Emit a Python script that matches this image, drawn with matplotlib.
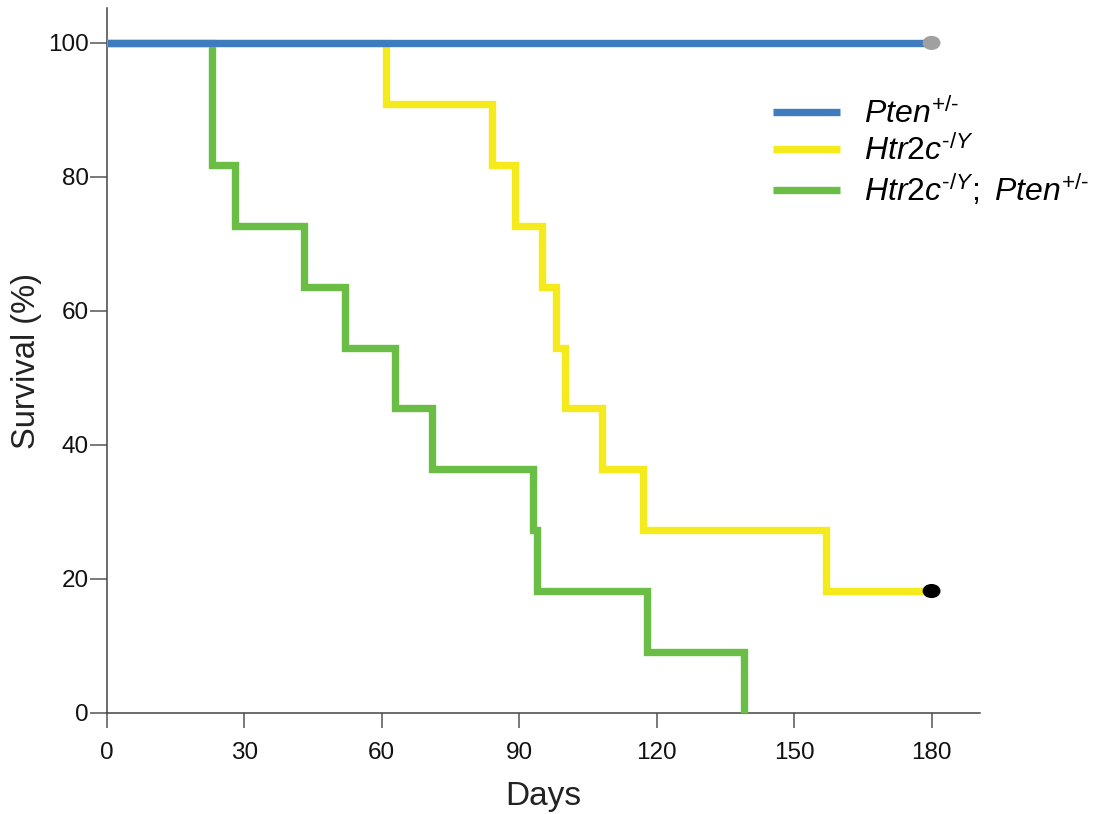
import numpy as np
import matplotlib
matplotlib.use("Agg")
import matplotlib.pyplot as plt
from matplotlib.patches import Ellipse

plt.rcParams['font.family'] = ['Liberation Sans', 'DejaVu Sans']
plt.rcParams['mathtext.fontset'] = 'custom'
plt.rcParams['mathtext.rm'] = 'Liberation Sans'
plt.rcParams['mathtext.it'] = 'Liberation Sans:italic'
plt.rcParams['mathtext.bf'] = 'Liberation Sans:bold'

# === data (Kaplan-Meier steps, n = 11 per group) ===
pten_days = [0, 180]
pten_surv = [100, 100]

htr_days = [0, 61, 84, 89, 95, 98, 100, 108, 117, 157, 180]
htr_surv = [100, 90.9, 81.8, 72.7, 63.6, 54.5, 45.5, 36.4, 27.3, 18.2, 18.2]

dbl_days = [0, 23, 28, 43, 52, 63, 71, 93, 94, 118, 139]
dbl_surv = [100, 81.8, 72.7, 63.6, 54.5, 45.5, 36.4, 27.3, 18.2, 9.1, 0]

# censored end points
cens_days = [180, 180]
cens_surv = [100, 18.2]
cens_colors = ['#a0a0a0', '#000000']

labels = ['$\\mathit{Pten}^{\\mathit{+/\u2010}}$',
          '$\\mathit{Htr2c}^{\\mathit{\u2010/Y}}$',
          '$\\mathit{Htr2c}^{\\mathit{\u2010/Y}}\\mathit{;\\ Pten}^{\\mathit{+/\u2010}}$']
colors = ['#3f7bbf', '#f5ea1c', '#6abd45']

x_ticks = [0, 30, 60, 90, 120, 150, 180]
y_ticks = [0, 20, 40, 60, 80, 100]

fig = plt.figure(figsize=(10.94, 8.14), dpi=100)
ax = fig.add_axes([0.0975, 0.1241, 0.798, 0.866])

lw = 5.3
style = dict(linewidth=lw, solid_joinstyle='miter', solid_capstyle='butt',
             where='post', clip_on=False)
l3, = ax.step(dbl_days, dbl_surv, color=colors[2], label=labels[2], zorder=3, **style)
l2, = ax.step(htr_days, htr_surv, color=colors[1], label=labels[1], zorder=3, **style)
l1, = ax.step(pten_days, pten_surv, color=colors[0], label=labels[0], zorder=4, **style)

for cx, cy, cc in zip(cens_days, cens_surv, cens_colors):
    ax.add_patch(Ellipse((cx, cy), width=3.6, height=1.9, color=cc,
                         zorder=5, clip_on=False))

ax.set_xlim(0, 190.5)
ax.set_ylim(0, 105.2)
ax.set_xticks(x_ticks)
ax.set_yticks(y_ticks)

for s in ['top', 'right']:
    ax.spines[s].set_visible(False)
for s in ['left', 'bottom']:
    ax.spines[s].set_linewidth(1.1)
    ax.spines[s].set_color('#444444')

ax.tick_params(axis='y', length=12, width=1.1, color='#555555', pad=1,
               labelsize=17.5, labelcolor='#111111')
ax.tick_params(axis='x', length=11, width=1.1, color='#555555', pad=10,
               labelsize=17.5, labelcolor='#111111')

ax.set_xlabel('Days', fontsize=24, color='#222222', labelpad=12)
ax.set_ylabel('Survival (%)', fontsize=23.5, color='#222222', labelpad=4)

ax.legend(handles=[l1, l2, l3], loc='upper left',
          bbox_to_anchor=(0.749, 0.89), frameon=False, fontsize=23,
          handlelength=2.1, handletextpad=0.75, labelspacing=0.15,
          borderaxespad=0)

fig.savefig('out.png', dpi=100)
